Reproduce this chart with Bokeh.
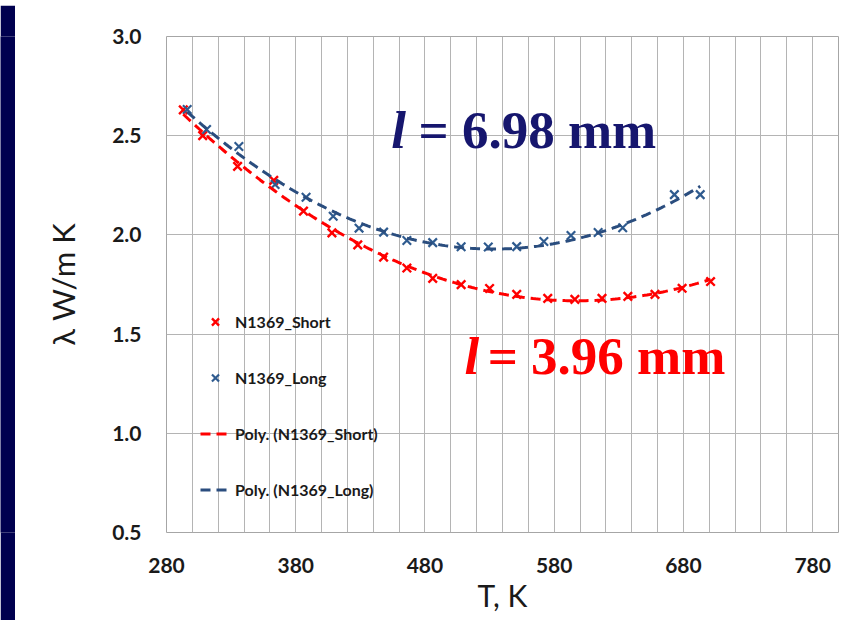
import numpy as np
from bokeh.plotting import figure
from bokeh.models import (Range1d, FixedTicker, PrintfTickFormatter, Legend,
                          LegendItem, Label)
from bokeh.layouts import row, column
from bokeh.embed import file_html
from bokeh.resources import INLINE

# ---- data ----
short_T = [293, 308, 335, 363, 386, 408, 428, 448, 466, 486, 508, 530, 551,
           575, 596, 617, 637, 658, 679, 701]
short_L = [2.63, 2.50, 2.345, 2.275, 2.12, 2.01, 1.95, 1.888, 1.833, 1.781,
           1.749, 1.73, 1.70, 1.68, 1.675, 1.68, 1.69, 1.70, 1.731, 1.765]
long_T = [296, 311, 336, 364, 388, 409, 429, 448, 466, 486, 508, 529, 551,
          572, 593, 614, 633, 673, 693]
long_L = [2.632, 2.531, 2.446, 2.254, 2.19, 2.094, 2.034, 2.014, 1.972, 1.961,
          1.94, 1.939, 1.941, 1.967, 1.997, 2.012, 2.036, 2.203, 2.203]

x_ticks = [280, 380, 480, 580, 680, 780]
x_grid = list(range(280, 801, 20))
y_ticks = [0.5, 1.0, 1.5, 2.0, 2.5, 3.0]

series_names = ["N1369_Short", "N1369_Long",
                "Poly. (N1369_Short)", "Poly. (N1369_Long)"]
ann_long = ["l", "= 6.98 mm"]
ann_short = ["l", "= 3.96 mm"]

RED = "#FF0000"
BLUE_M = "#2F5B8F"
BLUE_L = "#2A4D7E"
NAVY_TXT = "#16166E"
GRID = "#B4B4B4"
TXT = "#1a1a1a"
SLIDE = "#00004F"

# ---- polynomial trend lines (order 2, like Excel "Poly.") ----
cs = np.polyfit(short_T, short_L, 2)
cl = np.polyfit(long_T, long_L, 2)
ts = np.linspace(min(short_T), max(short_T), 200)
tl = np.linspace(min(long_T), max(long_T), 200)
fs = np.polyval(cs, ts)
fl = np.polyval(cl, tl)


def strip(w, h):
    f = figure(width=w, height=h, output_backend="svg",
               toolbar_location=None, x_axis_type=None, y_axis_type=None,
               min_border=0, border_fill_color=SLIDE,
               background_fill_color=SLIDE, outline_line_color=None)
    f.grid.visible = False
    return f


top = strip(868, 5)
left = strip(15, 615)

# ---- main chart ----
p = figure(width=853, height=615, output_backend="svg", toolbar_location=None,
           x_range=Range1d(280, 800), y_range=Range1d(0.5, 3.0),
           min_border_left=151, min_border_right=30, min_border_top=31,
           min_border_bottom=88, background_fill_color="white",
           border_fill_color="white", outline_line_color="#A6A6A6")

p.xaxis.ticker = FixedTicker(ticks=x_ticks, minor_ticks=x_grid)
p.yaxis.ticker = FixedTicker(ticks=y_ticks)
p.yaxis.formatter = PrintfTickFormatter(format="%.1f")
p.xgrid.grid_line_color = GRID
p.xgrid.minor_grid_line_color = GRID
p.ygrid.grid_line_color = GRID

for ax in (p.xaxis[0], p.yaxis[0]):
    ax.axis_line_color = None
    ax.major_tick_line_color = None
    ax.minor_tick_line_color = None
    ax.major_label_text_font = "Lato"
    ax.major_label_text_font_size = "21px"
    ax.major_label_text_font_style = "bold"
    ax.major_label_text_color = TXT
    ax.axis_label_text_font = "Lato"
    ax.axis_label_text_font_size = "30px"
    ax.axis_label_text_font_style = "normal"
    ax.axis_label_text_color = TXT

p.xaxis.axis_label = "T, K"
p.yaxis.axis_label = "λ W/m K"
p.yaxis.axis_label_text_font_size = "31px"
p.xaxis.major_label_standoff = 19
p.xaxis.axis_label_standoff = 1
p.yaxis.major_label_standoff = 19
p.yaxis.axis_label_standoff = 27

r_s = p.scatter(short_T, short_L, marker="x", size=12, line_color=RED,
                line_width=2.4)
r_l = p.scatter(long_T, long_L, marker="x", size=12, line_color=BLUE_M,
                line_width=2.2)
r_ps = p.line(ts, fs, line_color=RED, line_width=3, line_dash="10 6")
r_pl = p.line(tl, fl, line_color=BLUE_L, line_width=3, line_dash="10 6")

legend = Legend(items=[LegendItem(label=series_names[0], renderers=[r_s]),
                       LegendItem(label=series_names[1], renderers=[r_l]),
                       LegendItem(label=series_names[2], renderers=[r_ps]),
                       LegendItem(label=series_names[3], renderers=[r_pl])],
                location=(34, 30), background_fill_alpha=0,
                border_line_color=None, padding=0, margin=0, spacing=31,
                glyph_height=25, glyph_width=30, label_height=25,
                label_standoff=5, label_text_font="Lato",
                label_text_font_size="16px", label_text_font_style="bold",
                label_text_color=TXT)
p.add_layout(legend)

lab_kw = dict(text_font="Liberation Serif", text_font_size="53px",
              text_baseline="alphabetic")
p.add_layout(Label(x=454, y=2.53, text=ann_long[0], text_color=NAVY_TXT,
                   text_font_style="bold italic", **lab_kw))
p.add_layout(Label(x=475, y=2.53, text=ann_long[1], text_color=NAVY_TXT,
                   text_font_style="bold", **lab_kw))
p.add_layout(Label(x=510.5, y=1.39, text=ann_short[0], text_color=RED,
                   text_font_style="bold italic", **lab_kw))
p.add_layout(Label(x=528.5, y=1.39, text=ann_short[1], text_color=RED,
                   text_font_style="bold", **lab_kw))

layout = column(top, row(left, p, spacing=0), spacing=0)
open("out.html", "w").write(file_html(layout, INLINE))
